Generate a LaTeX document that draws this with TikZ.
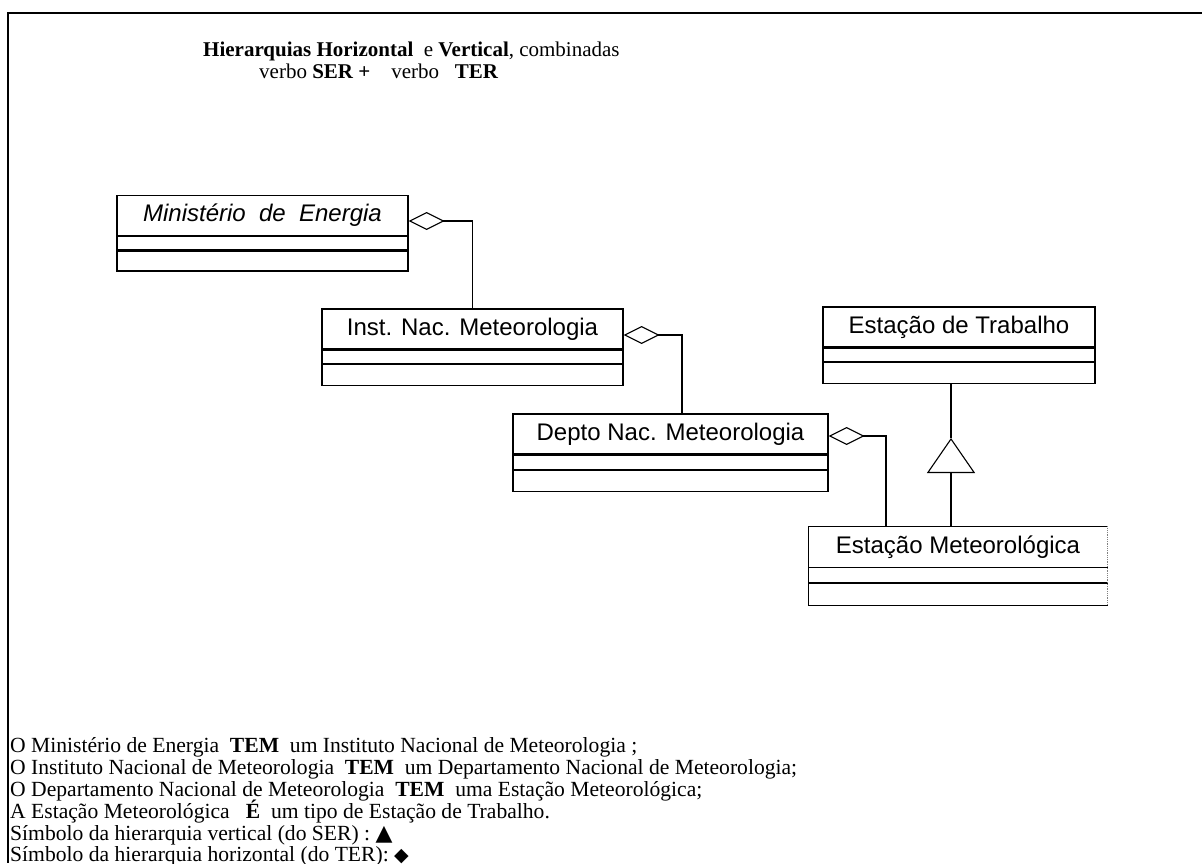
\documentclass[tikz,border=0pt]{standalone}
\usepackage{fontspec}
\setmainfont{Liberation Serif}
\newfontfamily\boxfont{Liberation Sans}
\newfontfamily\symfont{DejaVu Sans}
\usetikzlibrary{arrows.meta}

\begin{document}
\begin{tikzpicture}[x=1pt,y=1pt,
  frame/.style={line width=1.6pt},
  classname/.style={draw, line width=1.3pt, minimum height=40pt, inner sep=0pt,
    font=\boxfont\fontsize{24}{28}\selectfont},
  bareclass/.style={classname, draw=none},
  compart/.style={draw, line width=1.3pt, inner sep=0pt, anchor=north},
  barecompart/.style={compart, draw=none},
  link/.style={line width=1.1pt},
  has/.style={link, {Diamond[open, length=36pt, width=18pt, line width=1.1pt]}-},
  isa/.style={link, -{Triangle[open, length=35pt, width=48pt, line width=1.1pt]}},
  heading/.style={anchor=base west, inner sep=0pt, font=\fontsize{21}{25}\selectfont},
  note/.style={anchor=base west, inner sep=0pt, font=\fontsize{21.6}{25}\selectfont},
]
\useasboundingbox (0,0) rectangle (1202,-863);

% outer frame (top and left edges)
\draw[frame] (1202,-13) -- (8,-13) -- (8,-863);

% heading
\node[heading] (h1) at (203,-56) {\textbf{Hierarquias Horizontal}\ \ e \textbf{Vertical}, combinadas};
\node[heading] (h2) at (259,-78) {verbo \textbf{SER +}\ \ \ \ verbo\ \ \ \textbf{TER}};

% classes
\node[classname, minimum width=291pt] (min) at (262.5,-215.5) {\itshape Ministério\ \ de\ \ Energia};
\node[compart, minimum width=291pt, minimum height=13pt] (minA) at (min.south) {};
\node[compart, minimum width=291pt, minimum height=20pt] (minB) at (minA.south) {};

\node[classname, minimum width=301pt] (inst) at (472.5,-329) {Inst. Nac. Meteorologia};
\node[compart, minimum width=301pt, minimum height=13pt] (instA) at (inst.south) {};
\node[compart, minimum width=301pt, minimum height=21pt] (instB) at (instA.south) {};

\node[classname, minimum width=315pt] (depto) at (670.5,-434) {Depto Nac. Meteorologia};
\node[compart, minimum width=315pt, minimum height=14pt] (deptoA) at (depto.south) {};
\node[compart, minimum width=315pt, minimum height=21pt] (deptoB) at (deptoA.south) {};

\node[classname, minimum width=272pt] (trab) at (959,-327) {Estação de Trabalho};
\node[compart, minimum width=272pt, minimum height=13pt] (trabA) at (trab.south) {};
\node[compart, minimum width=272pt, minimum height=21pt] (trabB) at (trabA.south) {};

% weather station: right edge only faintly printed
\node[bareclass, minimum width=298pt] (met) at (958,-547) {Estação Meteorológica};
\node[barecompart, minimum width=298pt, minimum height=14pt] (metA) at (met.south) {};
\node[barecompart, minimum width=298pt, minimum height=21pt] (metB) at (metA.south) {};
\draw[line width=1.3pt] (met.north east) -- (met.north west) -- (metB.south west) -- (metB.south east);
\draw[line width=1.3pt] (met.south west) -- (met.south east);
\draw[line width=1.3pt] (metA.south west) -- (metA.south east);
\draw[gray, densely dotted, line width=0.8pt] (met.north east) -- (metB.south east);

% aggregations (TER)
\draw[has] ([yshift=-5.5pt]min.east) -| (inst.north);
\draw[has] ([yshift=-6pt]inst.east) -| ([xshift=11.5pt]depto.north);
\draw[has] ([yshift=-2pt]depto.east) -| ([xshift=-72pt]met.north);

% generalization (SER)
\coordinate (gtip) at (951,-438);
\draw[link] (gtip) -- (trabB.south -| gtip);
\draw[isa] (met.north -| gtip) -- (gtip);

% explanatory lines
\node[note] (l1) at (10,-752) {O Ministério de Energia\ \ \textbf{TEM}\ \ um Instituto Nacional de Meteorologia ;};
\node[note] (l2) at (10,-774) {O Instituto Nacional de Meteorologia\ \ \textbf{TEM}\ \ um Departamento Nacional de Meteorologia;};
\node[note] (l3) at (10,-796) {O Departamento Nacional de Meteorologia\ \ \textbf{TEM}\ \ uma Estação Meteorológica;};
\node[note] (l4) at (10,-818) {A Estação Meteorológica\ \ \ \textbf{É}\ \ um tipo de Estação de Trabalho.};
\node[note] (l5) at (10,-840) {Símbolo da hierarquia vertical (do SER) : {\symfont\fontsize{22}{25}\selectfont ▲}};
\node[note] (l6) at (10,-861) {Símbolo da hierarquia horizontal (do TER): {\symfont\fontsize{19}{25}\selectfont ◆}};
\end{tikzpicture}
\end{document}
